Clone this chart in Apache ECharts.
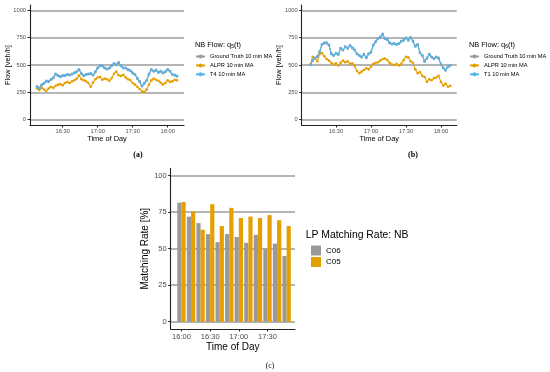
<!DOCTYPE html>
<html><head><meta charset="utf-8">
<script src="https://cdn.jsdelivr.net/npm/echarts@6/dist/echarts.min.js"></script>
<style>html,body{margin:0;padding:0;background:#fff}#c{width:550px;height:372px}</style>
</head><body><div id="c"></div>
<script>
// ---------- data ----------
const flowTimes = ["16:08","16:10","16:12","16:14","16:16","16:18","16:20","16:22","16:24","16:26","16:28","16:30","16:32","16:34","16:36","16:38","16:40","16:42","16:44","16:46","16:48","16:50","16:52","16:54","16:56","16:58","17:00","17:02","17:04","17:06","17:08","17:10","17:12","17:14","17:16","17:18","17:20","17:22","17:24","17:26","17:28","17:30","17:32","17:34","17:36","17:38","17:40","17:42","17:44","17:46","17:48","17:50","17:52","17:54","17:56","17:58","18:00","18:02","18:04","18:06","18:08"];
const aGroundTruth = [305,290,315,330,355,350,365,380,415,405,395,400,405,410,410,415,430,435,455,425,400,415,415,420,410,435,470,490,495,475,460,470,495,510,505,520,495,470,475,455,450,425,415,375,350,305,335,355,415,455,445,450,435,440,430,435,455,445,410,410,395];
const aALPR = [285,270,290,275,262,285,300,290,310,320,325,315,335,345,335,350,360,375,405,370,360,350,335,300,340,370,385,390,365,375,370,355,380,420,440,405,400,410,385,370,360,335,320,300,280,258,255,275,320,360,375,365,355,340,320,335,360,345,350,365,360];
const aT4 = [299,283,320,336,350,345,370,385,420,400,390,405,400,415,405,420,425,440,460,420,405,410,420,423,405,440,475,495,490,470,465,475,490,515,500,525,490,475,470,460,445,430,410,380,345,310,330,360,420,460,440,455,430,445,425,440,460,440,415,405,400];
const bGroundTruth = [505,540,565,575,625,685,705,700,685,605,585,610,595,655,635,670,650,680,655,640,600,590,570,600,565,605,615,685,710,745,755,785,740,735,700,695,695,690,695,720,725,750,725,755,715,675,685,615,585,535,560,600,570,560,570,565,505,475,450,485,495];
const bALPR = [500,575,560,535,600,610,580,555,540,520,505,515,495,520,540,525,535,510,515,490,445,425,440,455,470,460,485,510,520,525,540,555,560,545,520,505,500,510,495,510,545,575,570,535,520,460,425,435,400,390,345,370,360,380,385,400,345,310,330,300,310];
const bT1 = [500,545,560,580,620,690,700,705,680,600,590,605,600,650,640,665,655,675,660,635,605,585,575,595,570,600,620,680,715,740,760,780,745,730,705,690,700,685,700,715,730,745,730,750,720,670,690,610,590,530,565,595,575,555,575,560,510,470,455,480,500];
const flowTickLabels = ["16:30","17:00","17:30","18:00"];

const barCategories = ["16:00","16:10","16:20","16:30","16:40","16:50","17:00","17:10","17:20","17:30","17:40","17:50"];
const rateC06 = [81.5,72,67.5,60,54.5,60,58,54,59.5,50,53.5,45];
const rateC05 = [82,75.5,63,80.5,65.5,78,71,72,71,73,69.5,65.5];
const barTickLabels = ["16:00","16:30","17:00","17:30"];

// ---------- helpers ----------
const toMin = s => { const p = s.split(':'); return (+p[0]) * 60 + (+p[1]); };
const pts = vals => flowTimes.map((t, i) => [toMin(t), vals[i]]);
const FF = '"Liberation Sans", Arial, Helvetica, sans-serif';
const SERIF = '"Liberation Serif", "DejaVu Serif", serif';
const axisCol = '#222222', gridCol = '#9c9c9c', labCol = '#4d4d4d';
const cGT = '#999999', cALPR = '#E69F00', cBlue = '#56B4E9';

function outerX(gi, min, max, fs, gap) {
  return {gridIndex: gi, type: 'value', min, max,
    axisLine: {show: true, onZero: false, lineStyle: {color: axisCol, width: 1.1}},
    axisTick: {show: false}, axisLabel: {show: false}, splitLine: {show: false},
    name: 'Time of Day', nameLocation: 'middle', nameGap: gap,
    nameTextStyle: {fontSize: fs, color: '#000', fontFamily: FF}};
}
function outerY(gi, min, max, name, fs, gap) {
  return {gridIndex: gi, type: 'value', min, max,
    axisLine: {show: true, onZero: false, lineStyle: {color: axisCol, width: 1.1}},
    axisTick: {show: false}, axisLabel: {show: false}, splitLine: {show: false},
    name, nameLocation: 'middle', nameGap: gap,
    nameTextStyle: {fontSize: fs, color: '#000', fontFamily: FF}};
}
function hidden(gi, extra) { return Object.assign({gridIndex: gi, type: 'value', show: false, min: 0, max: 1}, extra || {}); }
function labelY(gi, max, interval, fs) {
  return {gridIndex: gi, type: 'value', min: 0, max, interval,
    axisLine: {show: false, onZero: false},
    axisTick: {show: true, length: 2.5, lineStyle: {color: axisCol}},
    axisLabel: {fontSize: fs, color: labCol, margin: 4, fontFamily: FF, formatter: v => String(v)},
    splitLine: {show: true, lineStyle: {color: gridCol, width: 1.5}}};
}
function labelX(gi, min, max, labels, fs, margin) {
  return {gridIndex: gi, type: 'value', min, max, interval: (max - min) / (labels.length - 1),
    axisLine: {show: false, onZero: false},
    axisTick: {show: true, length: 2.5, lineStyle: {color: axisCol}},
    axisLabel: {fontSize: fs, color: labCol, margin, fontFamily: FF, showMinLabel: true, showMaxLabel: true,
      formatter: v => labels[Math.round((v - min) / ((max - min) / (labels.length - 1)))] || ''},
    splitLine: {show: false}};
}
function lineSeries(name, vals, color, xi, yi) {
  return {type: 'line', name, data: pts(vals), xAxisIndex: xi, yAxisIndex: yi,
    symbol: 'circle', symbolSize: 2.6, showSymbol: true,
    lineStyle: {color, width: 1.1}, itemStyle: {color}, animation: false, z: 3};
}

const option = {
  animation: false,
  textStyle: {fontFamily: FF},
  grid: [
    {left: 30, top: 5, width: 154, height: 120},
    {left: 30, top: 10.45, width: 154, height: 109.1},
    {left: 62.7, top: 5, width: 105, height: 120},
    {left: 301.7, top: 5, width: 155, height: 120},
    {left: 301.7, top: 10.45, width: 155, height: 109.1},
    {left: 336, top: 5, width: 105, height: 120},
    {left: 170.7, top: 168.4, width: 124.3, height: 160.6},
    {left: 176.7, top: 175.7, width: 114.7, height: 146},
    {left: 170.7, top: 175.7, width: 124.3, height: 146},
    {left: 181.5, top: 168.4, width: 86, height: 160.6}
  ],
  xAxis: [
    outerX(0, 962, 1094, 7.4, 10),
    hidden(1, {min: 962, max: 1094}),
    labelX(2, 990, 1080, flowTickLabels, 5.7, 3),
    outerX(3, 960.6, 1093.5, 7.4, 10),
    hidden(4, {min: 960.6, max: 1093.5}),
    labelX(5, 990, 1080, flowTickLabels, 5.7, 3),
    outerX(6, 0, 1, 10, 13.5),
    {gridIndex: 7, type: 'category', data: barCategories, show: false},
    hidden(8),
    labelX(9, 0, 90, barTickLabels, 7.5, 4)
  ],
  yAxis: [
    outerY(0, -50, 1050, 'Flow [veh/h]', 7.4, 19),
    labelY(1, 1000, 250, 5.7),
    hidden(2),
    outerY(3, -50, 1050, 'Flow [veh/h]', 7.4, 19),
    labelY(4, 1000, 250, 5.7),
    hidden(5),
    outerY(6, -5, 105, 'Matching Rate [%]', 10, 20),
    hidden(7, {min: 0, max: 100}),
    labelY(8, 100, 25, 7.5),
    hidden(9)
  ],
  legend: [
    {data: ['Ground Truth 10 min MA', 'ALPR 10 min MA', 'T4 10 min MA'], left: 195, top: 53.5, orient: 'vertical',
     padding: 0, itemWidth: 9, itemHeight: 5, itemGap: 2.9, selectedMode: false,
     textStyle: {fontSize: 5.7, color: '#000', fontFamily: FF, lineHeight: 6}},
    {data: ['Ground Truth 10 min MA', 'ALPR 10 min MA', 'T1 10 min MA'], left: 469, top: 53.5, orient: 'vertical',
     padding: 0, itemWidth: 9, itemHeight: 5, itemGap: 2.9, selectedMode: false,
     textStyle: {fontSize: 5.7, color: '#000', fontFamily: FF, lineHeight: 6}},
    {data: ['C06', 'C05'], left: 311, top: 245.5, orient: 'vertical', icon: 'rect',
     padding: 0, itemWidth: 10, itemHeight: 10, itemGap: 1.5, selectedMode: false,
     textStyle: {fontSize: 8, color: '#000', fontFamily: FF}}
  ],
  graphic: [
    {type: 'text', x: 195, y: 45, style: {text: 'NB Flow: q{s|5}(t)', fontSize: 7.4, fontFamily: FF, fill: '#000',
      verticalAlign: 'middle', align: 'left', rich: {s: {fontSize: 5, fontFamily: FF, padding: [4, 0, 0, 0]}}}},
    {type: 'text', x: 469, y: 45, style: {text: 'NB Flow: q{s|6}(t)', fontSize: 7.4, fontFamily: FF, fill: '#000',
      verticalAlign: 'middle', align: 'left', rich: {s: {fontSize: 5, fontFamily: FF, padding: [4, 0, 0, 0]}}}},
    {type: 'text', x: 305.7, y: 235, style: {text: 'LP Matching Rate: NB', fontSize: 10.4, fontFamily: FF, fill: '#000',
      verticalAlign: 'middle', align: 'left'}},
    {type: 'text', x: 138, y: 155, style: {text: '(a)', fontSize: 8, fontWeight: 'bold', fontFamily: SERIF, fill: '#000', align: 'center', verticalAlign: 'middle'}},
    {type: 'text', x: 413, y: 155, style: {text: '(b)', fontSize: 8, fontWeight: 'bold', fontFamily: SERIF, fill: '#000', align: 'center', verticalAlign: 'middle'}},
    {type: 'text', x: 270, y: 366, style: {text: '(c)', fontSize: 7.5, fontFamily: SERIF, fill: '#000', align: 'center', verticalAlign: 'middle'}}
  ],
  series: [
    lineSeries('Ground Truth 10 min MA', aGroundTruth, cGT, 1, 1),
    lineSeries('ALPR 10 min MA', aALPR, cALPR, 1, 1),
    lineSeries('T4 10 min MA', aT4, cBlue, 1, 1),
    lineSeries('Ground Truth 10 min MA', bGroundTruth, cGT, 4, 4),
    lineSeries('ALPR 10 min MA', bALPR, cALPR, 4, 4),
    lineSeries('T1 10 min MA', bT1, cBlue, 4, 4),
    {type: 'bar', name: 'C06', data: rateC06, xAxisIndex: 7, yAxisIndex: 7, barWidth: 4.2, barGap: '0%',
     itemStyle: {color: '#999999'}},
    {type: 'bar', name: 'C05', data: rateC05, xAxisIndex: 7, yAxisIndex: 7, barWidth: 4.2, barGap: '0%',
     itemStyle: {color: '#E69F00'}}
  ]
};
const chart = echarts.init(document.getElementById('c'), null, {renderer: 'canvas'});
chart.setOption(option);
</script></body></html>
